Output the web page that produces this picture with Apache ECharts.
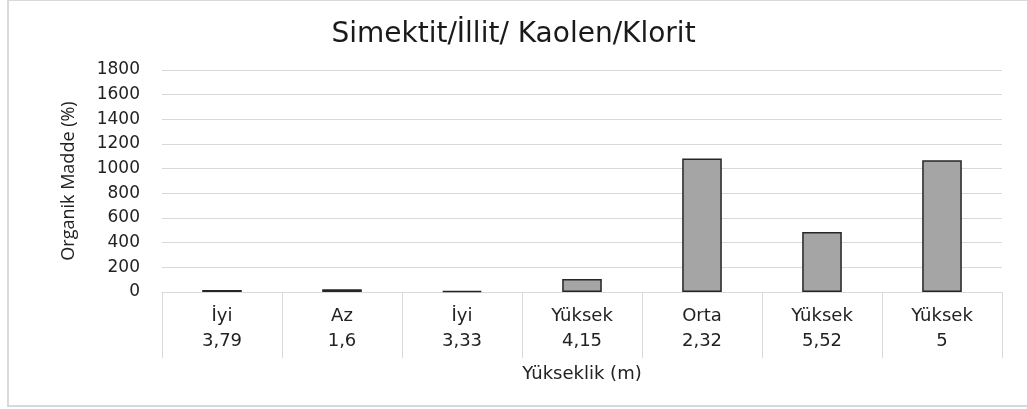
<!DOCTYPE html>
<html>
<head>
<meta charset="utf-8">
<script src="https://cdn.jsdelivr.net/npm/echarts@6/dist/echarts.min.js"></script>
<style>
  html, body { margin: 0; padding: 0; background: #fff; }
  #main { width: 1027px; height: 409px; }
</style>
</head>
<body>
<div id="main"></div>
<script>
// kategori etiketleri (iki satır)
const levels = ['İyi', 'Az', 'İyi', 'Yüksek', 'Orta', 'Yüksek', 'Yüksek'];
const heights = ['3,79', '1,6', '3,33', '4,15', '2,32', '5,52', '5'];
// Organik Madde (%) değerleri
const values = [16, 22, 8, 105, 1082, 487, 1068];
const yTicks = [0, 1800, 200]; // min, max, interval

const categories = levels.map((l, i) => l + '\n' + heights[i]);

const chart = echarts.init(document.getElementById('main'));
chart.setOption({
  animation: false,
  title: {
    text: 'Simektit/İllit/ Kaolen/Klorit',
    left: 'center',
    top: 16,
    textStyle: {
      fontFamily: 'DejaVu Sans',
      fontSize: 28,
      fontWeight: 'normal',
      color: '#1a1a1a'
    }
  },
  graphic: [{
    type: 'rect',
    shape: { x: 8, y: 0, width: 1030, height: 406 },
    style: { fill: 'none', stroke: '#d9d9d9', lineWidth: 2 },
    silent: true
  }],
  grid: { left: 162, right: 25, top: 70, bottom: 117 },
  xAxis: {
    type: 'category',
    data: categories,
    name: 'Yükseklik (m)',
    nameLocation: 'middle',
    nameGap: 73,
    nameTextStyle: { fontFamily: 'DejaVu Sans', fontSize: 18, color: '#222' },
    axisLine: { lineStyle: { color: '#d9d9d9', width: 1 } },
    axisTick: { show: true, length: 66, interval: 0, lineStyle: { color: '#d9d9d9' } },
    axisLabel: {
      interval: 0,
      margin: 12,
      lineHeight: 25,
      fontFamily: 'DejaVu Sans',
      fontSize: 18,
      color: '#222'
    }
  },
  yAxis: {
    type: 'value',
    min: yTicks[0],
    max: yTicks[1],
    interval: yTicks[2],
    name: 'Organik Madde (%)',
    nameLocation: 'middle',
    nameGap: 84,
    nameTextStyle: { fontFamily: 'Open Sans', fontSize: 18, color: '#222' },
    axisLine: { show: false },
    axisTick: { show: false },
    axisLabel: {
      margin: 22,
      fontFamily: 'DejaVu Sans',
      fontSize: 17,
      color: '#222',
      formatter: v => String(v)
    },
    splitLine: { lineStyle: { color: '#d9d9d9', width: 1 } }
  },
  series: [{
    type: 'bar',
    data: values,
    barWidth: '33%',
    itemStyle: { color: '#a5a5a5', borderColor: '#262626', borderWidth: 1.5 }
  }]
});
</script>
</body>
</html>
